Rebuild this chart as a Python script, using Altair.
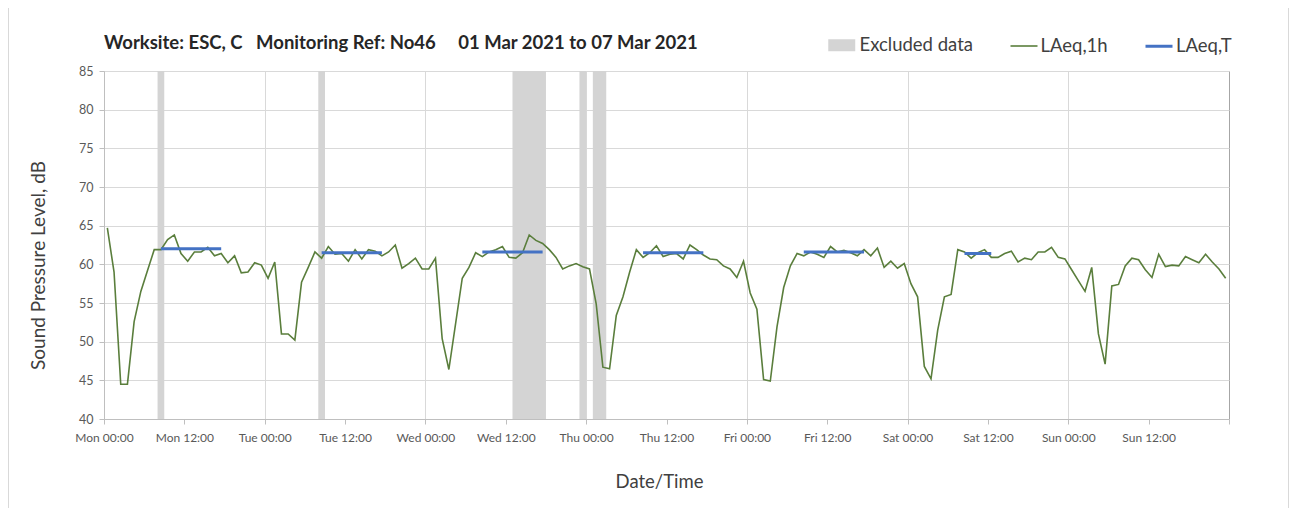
import altair as alt
import pandas as pd

# ---------------- data ----------------
day_names = ["Mon", "Tue", "Wed", "Thu", "Fri", "Sat", "Sun"]

# hourly LAeq,1h values (dB), one per hour from Mon 00:00 (plotted at hour centre)
laeq_1h = [64.7, 59.0, 44.5, 44.5, 52.6, 56.5, 59.2, 61.9, 61.9, 63.2,
           63.8, 61.4, 60.4, 61.6, 61.6, 62.2, 61.1, 61.4, 60.2, 61.1,
           58.9, 59.0, 60.2, 59.9, 58.2, 60.3, 51.0, 51.0, 50.2, 57.7,
           59.6, 61.6, 60.8, 62.3, 61.3, 61.4, 60.4, 61.9, 60.7, 61.9,
           61.7, 61.1, 61.6, 62.5, 59.5, 60.1, 60.8, 59.4, 59.4, 60.8,
           50.4, 46.4, 52.3, 58.2, 59.6, 61.5, 61.0, 61.6, 61.9, 62.3,
           60.9, 60.8, 61.5, 63.8, 63.1, 62.7, 61.9, 60.9, 59.4, 59.8,
           60.1, 59.7, 59.4, 54.9, 46.7, 46.5, 53.4, 55.8, 59.0, 61.9,
           60.9, 61.5, 62.4, 61.0, 61.3, 61.4, 60.7, 62.5, 61.9, 61.2,
           60.7, 60.6, 59.8, 59.4, 58.3, 60.4, 56.3, 54.2, 45.1, 44.9,
           51.9, 57.0, 59.8, 61.4, 61.1, 61.6, 61.3, 60.9, 62.3, 61.6,
           61.8, 61.5, 61.1, 61.9, 61.1, 62.1, 59.6, 60.4, 59.5, 60.1,
           57.5, 55.8, 46.8, 45.2, 51.5, 55.8, 56.1, 61.9, 61.6, 60.8,
           61.5, 61.9, 60.9, 60.9, 61.4, 61.7, 60.3, 60.8, 60.6, 61.6,
           61.6, 62.2, 60.9, 60.7, 59.3, 57.9, 56.5, 59.6, 51.0, 47.1,
           57.2, 57.4, 59.8, 60.8, 60.6, 59.3, 58.3, 61.3, 59.7, 59.9,
           59.8, 61.0, 60.6, 60.2, 61.3, 60.3, 59.4, 58.2]
hours = [i + 0.5 for i in range(len(laeq_1h))]

# excluded periods (hours from Mon 00:00)
excl_start = [8, 32, 61, 71, 73]
excl_end = [9, 33, 66, 72, 75]

# LAeq,T periods
t_start = [8.5, 32.5, 56.5, 80.5, 104.5, 128.5]
t_end = [17.5, 41.5, 65.5, 89.5, 113.5, 132.5]
t_value = [62.0, 61.5, 61.6, 61.5, 61.6, 61.4]

title_text = "Worksite: ESC, C\u00a0\u00a0\u00a0Monitoring Ref: No46\u00a0\u00a0\u00a0\u00a0\u00a001 Mar 2021 to 07 Mar 2021"

# ---------------- frames ----------------
df_line = pd.DataFrame({"hour": hours, "level": laeq_1h, "series": "LAeq,1h"})
df_excl = pd.DataFrame({"start": excl_start, "end": excl_end, "label": "Excluded data"})
df_t = pd.DataFrame({"start": t_start, "end": t_end, "level": t_value, "series": "LAeq,T"})

FONT = "Lato"
W, H = 1125, 348

days_js = "[" + ",".join(f"'{d}'" for d in day_names) + "]"
label_expr = (f"datum.value >= 168 ? '' : {days_js}[floor(datum.value/24)] + "
              "(datum.value % 24 == 0 ? ' 00:00' : ' 12:00')")

x_scale = alt.Scale(domain=[0, 168], nice=False, zero=False)
y_scale = alt.Scale(domain=[40, 85], nice=False, zero=False)

x_axis = alt.Axis(
    values=list(range(0, 169, 12)), labelExpr=label_expr, title="Date/Time",
    grid=True,
    gridOpacity={"condition": {"test": "datum.value % 24 != 0", "value": 0}, "value": 1},
    gridColor={"condition": {"test": "datum.value == 168", "value": "#a6a6a6"}, "value": "#d9d9d9"},
    domainColor="#bfbfbf", tickColor="#bfbfbf", tickSize=5, labelPadding=8,
    labelColor="#595959", labelFontSize=12, labelFont=FONT, labelFlush=False,
    labelOverlap=False,
    titleFont=FONT, titleFontSize=18.5, titleFontWeight="normal", titleColor="#404040",
    titlePadding=29, titleX=555,
)
y_axis = alt.Axis(
    values=list(range(40, 86, 5)), title="Sound Pressure Level, dB",
    grid=True, gridColor="#d9d9d9", domainColor="#bfbfbf", tickColor="#bfbfbf",
    tickSize=5, labelPadding=6, labelColor="#595959", labelFontSize=12.5,
    labelFont=FONT, labelOverlap=False, labelFlush=False,
    titleFont=FONT, titleFontSize=19, titleFontWeight="normal",
    titleColor="#404040", titlePadding=30, titleY=194,
)

stroke_legend = alt.Legend(
    title=None, orient="none", legendX=905.5, legendY=-40, direction="horizontal",
    symbolType="stroke", symbolSize=729, labelOffset=2, columnPadding=30.5,
    labelFont=FONT, labelFontSize=18.5, labelColor="#404040", padding=0,
)

frame = alt.Chart(pd.DataFrame({"k": [0]})).mark_rect(
    fill=None, stroke="#d9d9d9", strokeWidth=1
).encode(x=alt.value(-95.5), x2=alt.value(1184.5), y=alt.value(-80), y2=alt.value(460))

excl = alt.Chart(df_excl).mark_rect(opacity=1).encode(
    x=alt.X("start:Q", scale=x_scale, axis=x_axis),
    x2="end:Q",
    fill=alt.Fill("label:N", scale=alt.Scale(domain=["Excluded data"], range=["#d4d4d4"]),
                  legend=alt.Legend(title=None, orient="none", legendX=728.5, legendY=-35,
                                    symbolType="M-2.25,-1H2.25V1H-2.25Z", symbolSize=144,
                                    labelOffset=8.5, labelFont=FONT, labelFontSize=18.5,
                                    labelColor="#404040", padding=0, symbolStrokeWidth=0,
                                    symbolOpacity=1)),
)

stroke_scale = alt.Scale(domain=["LAeq,1h", "LAeq,T"], range=["#5a7e3c", "#4472c4"])
sw_scale = alt.Scale(domain=["LAeq,1h", "LAeq,T"], range=[1.6, 3])

line = alt.Chart(df_line).mark_line(strokeJoin="miter").encode(
    x=alt.X("hour:Q", scale=x_scale, axis=x_axis),
    y=alt.Y("level:Q", scale=y_scale, axis=y_axis),
    stroke=alt.Stroke("series:N", scale=stroke_scale, legend=stroke_legend),
    strokeWidth=alt.StrokeWidth("series:N", scale=sw_scale, legend=stroke_legend),
)

tline = alt.Chart(df_t).mark_rule(strokeCap="butt").encode(
    x=alt.X("start:Q", scale=x_scale, axis=x_axis),
    x2="end:Q",
    y=alt.Y("level:Q", scale=y_scale, axis=y_axis),
    stroke=alt.Stroke("series:N", scale=stroke_scale, legend=stroke_legend),
    strokeWidth=alt.StrokeWidth("series:N", scale=sw_scale, legend=stroke_legend),
)

chart = alt.layer(frame, excl, line, tline).properties(
    width=W, height=H,
    autosize=alt.AutoSizeParams(type="none"),
    padding={"left": 96, "top": 63, "right": 60, "bottom": 89},
    title=alt.TitleParams(text=title_text, anchor="start", frame="group", fontSize=18.5,
                          fontWeight="bold", font=FONT, color="#262626", offset=0, dy=62),
).configure_view(stroke=None).configure(font=FONT)

chart.save("out.html", embed_options={"renderer": "svg", "actions": False})
